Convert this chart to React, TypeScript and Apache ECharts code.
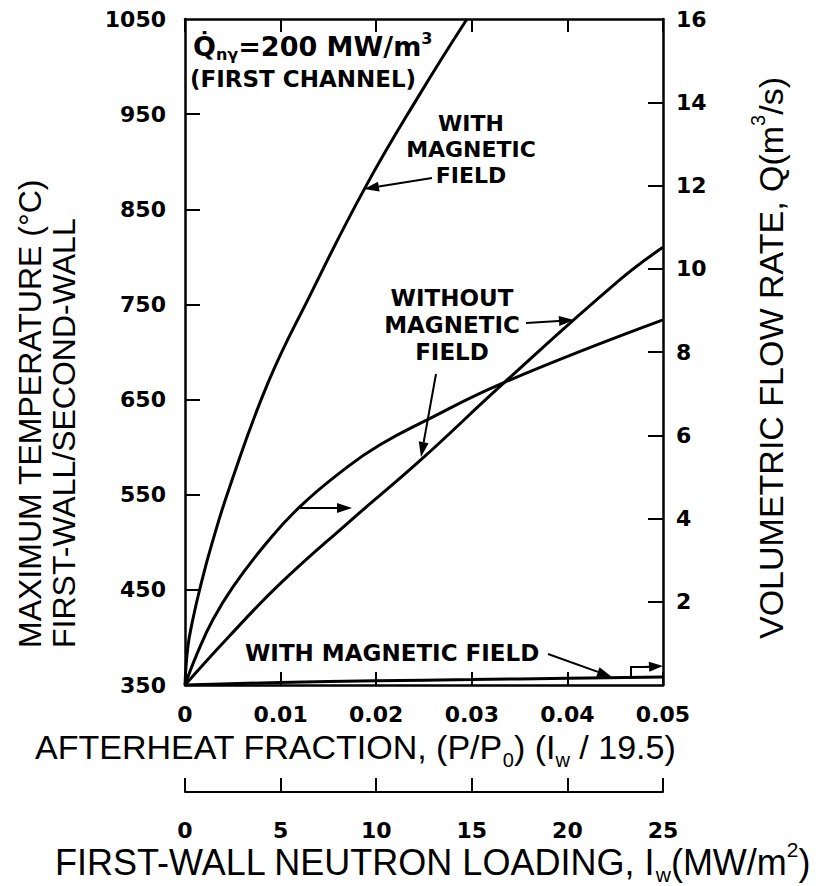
import React, { useEffect, useRef } from 'react';
import * as echarts from 'echarts';

// ---- axis ticks / labels ----
const AFTERHEAT_TICKS = [0, 0.01, 0.02, 0.03, 0.04, 0.05];
const LOADING_TICKS = [0, 5, 10, 15, 20, 25];
const TEMP_LABELS = [350, 450, 550, 650, 750, 850, 950, 1050];
const TEMP_TICKS = [450, 550, 650, 750, 850, 950];
const FLOW_LABELS = [2, 4, 6, 8, 10, 12, 14, 16];
const FLOW_TICKS = [2, 4, 6, 8, 10, 12, 14];

// ---- series: max temperature WITH magnetic field (left axis) ----
const afterheatTempWithField = [0, 0.0003, 0.0008, 0.0016, 0.0028, 0.0047, 0.0087, 0.013, 0.0188, 0.0245, 0.0295];
const tempWithField = [350, 390, 418, 453, 498, 559, 668, 758, 872, 970, 1050];

// ---- series: max temperature WITHOUT magnetic field (left axis) ----
const afterheatTempNoField = [0, 0.0047, 0.0099, 0.017, 0.0246, 0.0333, 0.0455, 0.05];
const tempNoField = [350, 402, 456, 520, 586, 667, 776, 810];

// ---- series: volumetric flow rate WITHOUT magnetic field (right axis) ----
const afterheatFlowNoField = [0, 0.0013, 0.0029, 0.005, 0.0082, 0.012, 0.017, 0.0204, 0.0249, 0.0333, 0.05];
const flowNoField = [0, 0.77, 1.56, 2.35, 3.32, 4.28, 5.24, 5.77, 6.32, 7.26, 8.77];

// ---- series: volumetric flow rate WITH magnetic field (right axis) ----
const afterheatFlowWithField = [0, 0.01, 0.02, 0.03, 0.04, 0.05];
const flowWithField = [0, 0.06, 0.1, 0.13, 0.16, 0.19];

const pairs = (xs: number[], ys: number[]) => xs.map((x, i) => [x, ys[i]]);

const BOLD = { fontFamily: 'DejaVu Sans', fontWeight: 'bold' as const, color: '#000' };
const TITLE_FONT = 'Liberation Sans, Arial, sans-serif';

function arrow(x1: number, y1: number, x2: number, y2: number, head = 15, half = 5) {
  const dx = x2 - x1;
  const dy = y2 - y1;
  const len = Math.hypot(dx, dy);
  const ux = dx / len;
  const uy = dy / len;
  const bx = x2 - ux * head;
  const by = y2 - uy * head;
  const px = -uy;
  const py = ux;
  return [
    { type: 'line', silent: true, shape: { x1, y1, x2: bx, y2: by }, style: { stroke: '#000', lineWidth: 2 } },
    {
      type: 'polygon',
      silent: true,
      shape: { points: [[x2, y2], [bx + px * half, by + py * half], [bx - px * half, by - py * half]] },
      style: { fill: '#000' },
    },
  ];
}

function label(x: number, y: number, text: string, opts: any = {}) {
  return {
    type: 'text',
    x,
    y,
    rotation: opts.rotation || 0,
    silent: true,
    style: {
      text,
      fill: '#000',
      fontFamily: opts.fontFamily || 'DejaVu Sans',
      fontWeight: opts.fontWeight || 'bold',
      fontSize: opts.fontSize || 23,
      lineHeight: opts.lineHeight,
      align: opts.align || 'left',
      textAlign: opts.align || 'left',
      verticalAlign: 'middle',
      textVerticalAlign: 'middle',
      rich: opts.rich,
    },
  };
}

const subSup = (family: string, weight: string, size: number) => ({
  sub: { fontFamily: family, fontWeight: weight, fontSize: size, lineHeight: size, verticalAlign: 'bottom', fill: '#000' },
  sup: { fontFamily: family, fontWeight: weight, fontSize: size, lineHeight: size, verticalAlign: 'top', fill: '#000' },
});

function buildOption() {
  const axisLine = { show: true, onZero: false, lineStyle: { color: '#000', width: 2.5 } };
  const tick = (length: number) => ({ show: true, inside: true, length, lineStyle: { color: '#000', width: 2 } });

  const graphics: any[] = [
    // axis titles
    label(30, 648, 'MAXIMUM TEMPERATURE (°C)', { rotation: Math.PI / 2, fontFamily: TITLE_FONT, fontWeight: 'normal', fontSize: 32 }),
    label(64, 648, 'FIRST-WALL/SECOND-WALL', { rotation: Math.PI / 2, fontFamily: TITLE_FONT, fontWeight: 'normal', fontSize: 32 }),
    label(771, 358, 'VOLUMETRIC FLOW RATE, Q(m{sup|3}/s)', {
      rotation: Math.PI / 2, align: 'center', fontFamily: TITLE_FONT, fontWeight: 'normal', fontSize: 34, lineHeight: 46,
      rich: subSup(TITLE_FONT, 'normal', 20),
    }),
    label(35, 747, 'AFTERHEAT FRACTION, (P/P{sub|0}) (I{sub|w} / 19.5)', {
      fontFamily: TITLE_FONT, fontWeight: 'normal', fontSize: 34, lineHeight: 46, rich: subSup(TITLE_FONT, 'normal', 20),
    }),
    label(55, 862, 'FIRST-WALL NEUTRON LOADING, I{sub|w}(MW/m{sup|2})', {
      fontFamily: TITLE_FONT, fontWeight: 'normal', fontSize: 36, lineHeight: 46, rich: subSup(TITLE_FONT, 'normal', 21),
    }),
    // annotations
    label(193, 46, 'Q\u0307{sub|nγ}=200 MW/m{sup|3}', { fontSize: 27, lineHeight: 32, rich: subSup('DejaVu Sans', 'bold', 16) }),
    label(190, 79, '(FIRST CHANNEL)', { fontSize: 23 }),
    label(471, 149, 'WITH\nMAGNETIC\nFIELD', { fontSize: 22, lineHeight: 26, align: 'center' }),
    label(452, 325, 'WITHOUT\nMAGNETIC\nFIELD', { fontSize: 23, lineHeight: 27, align: 'center' }),
    label(245, 653, 'WITH MAGNETIC FIELD', { fontSize: 23 }),
    ...arrow(432, 178, 364, 189),
    ...arrow(526, 323, 574, 320),
    ...arrow(436, 374, 421, 457),
    ...arrow(300, 508, 352, 508),
    ...arrow(548, 654, 612, 677),
    { type: 'polyline', silent: true, shape: { points: [[631, 678], [631, 667], [648, 667]] }, style: { stroke: '#000', lineWidth: 2, fill: null } },
    ...arrow(644, 667, 663, 666, 14, 5),
  ];

  const line = (name: string, data: number[][], yAxisIndex: number) => ({
    name,
    type: 'line',
    xAxisIndex: 0,
    yAxisIndex,
    data,
    showSymbol: false,
    symbol: 'none',
    smooth: 0.45,
    clip: true,
    lineStyle: { color: '#000', width: 3 },
  });

  return {
    animation: false,
    backgroundColor: '#ffffff',
    grid: { left: 185, right: 159, top: 19, bottom: 201, containLabel: false, outerBoundsMode: 'none' },
    xAxis: [
      {
        type: 'value', position: 'bottom', min: 0, max: 0.05, interval: 0.01,
        axisLine, axisTick: tick(13), splitLine: { show: false },
        axisLabel: {
          ...BOLD, fontSize: 22, margin: 18, customValues: AFTERHEAT_TICKS,
          formatter: (v: number) => (v === 0 ? '0' : v.toFixed(2)),
        },
      },
      {
        type: 'value', position: 'bottom', offset: 107, min: 0, max: 25, interval: 5,
        axisLine: { show: true, onZero: false, lineStyle: { color: '#000', width: 2 } },
        axisTick: { ...tick(14), customValues: LOADING_TICKS }, splitLine: { show: false },
        axisLabel: { ...BOLD, fontSize: 22, margin: 27, customValues: LOADING_TICKS, formatter: (v: number) => String(v) },
      },
      {
        type: 'value', position: 'top', min: 0, max: 0.05, interval: 0.01,
        axisLine, axisTick: tick(13), splitLine: { show: false }, axisLabel: { show: false },
      },
    ],
    yAxis: [
      {
        type: 'value', position: 'left', min: 350, max: 1050,
        axisLine, axisTick: { ...tick(15), customValues: TEMP_TICKS }, splitLine: { show: false },
        axisLabel: { ...BOLD, fontSize: 22, margin: 19, customValues: TEMP_LABELS, formatter: (v: number) => String(v) },
      },
      {
        type: 'value', position: 'right', min: 0, max: 16, interval: 2,
        axisLine, axisTick: { ...tick(15), customValues: FLOW_TICKS }, splitLine: { show: false },
        axisLabel: { ...BOLD, fontSize: 22, margin: 13, customValues: FLOW_LABELS, formatter: (v: number) => String(v) },
      },
    ],
    graphic: graphics,
    series: [
      line('Max temperature, with magnetic field', pairs(afterheatTempWithField, tempWithField), 0),
      line('Max temperature, without magnetic field', pairs(afterheatTempNoField, tempNoField), 0),
      line('Flow rate, without magnetic field', pairs(afterheatFlowNoField, flowNoField), 1),
      line('Flow rate, with magnetic field', pairs(afterheatFlowWithField, flowWithField), 1),
    ],
  };
}

export default function App() {
  const ref = useRef<HTMLDivElement>(null);
  useEffect(() => {
    if (!ref.current) return;
    const chart = echarts.init(ref.current, null, { renderer: 'svg' });
    chart.setOption(buildOption() as any);
    return () => chart.dispose();
  }, []);
  return (
    <div
      ref={ref}
      style={{ position: 'fixed', left: 0, top: 0, width: 822, height: 886, background: '#ffffff' }}
    />
  );
}
